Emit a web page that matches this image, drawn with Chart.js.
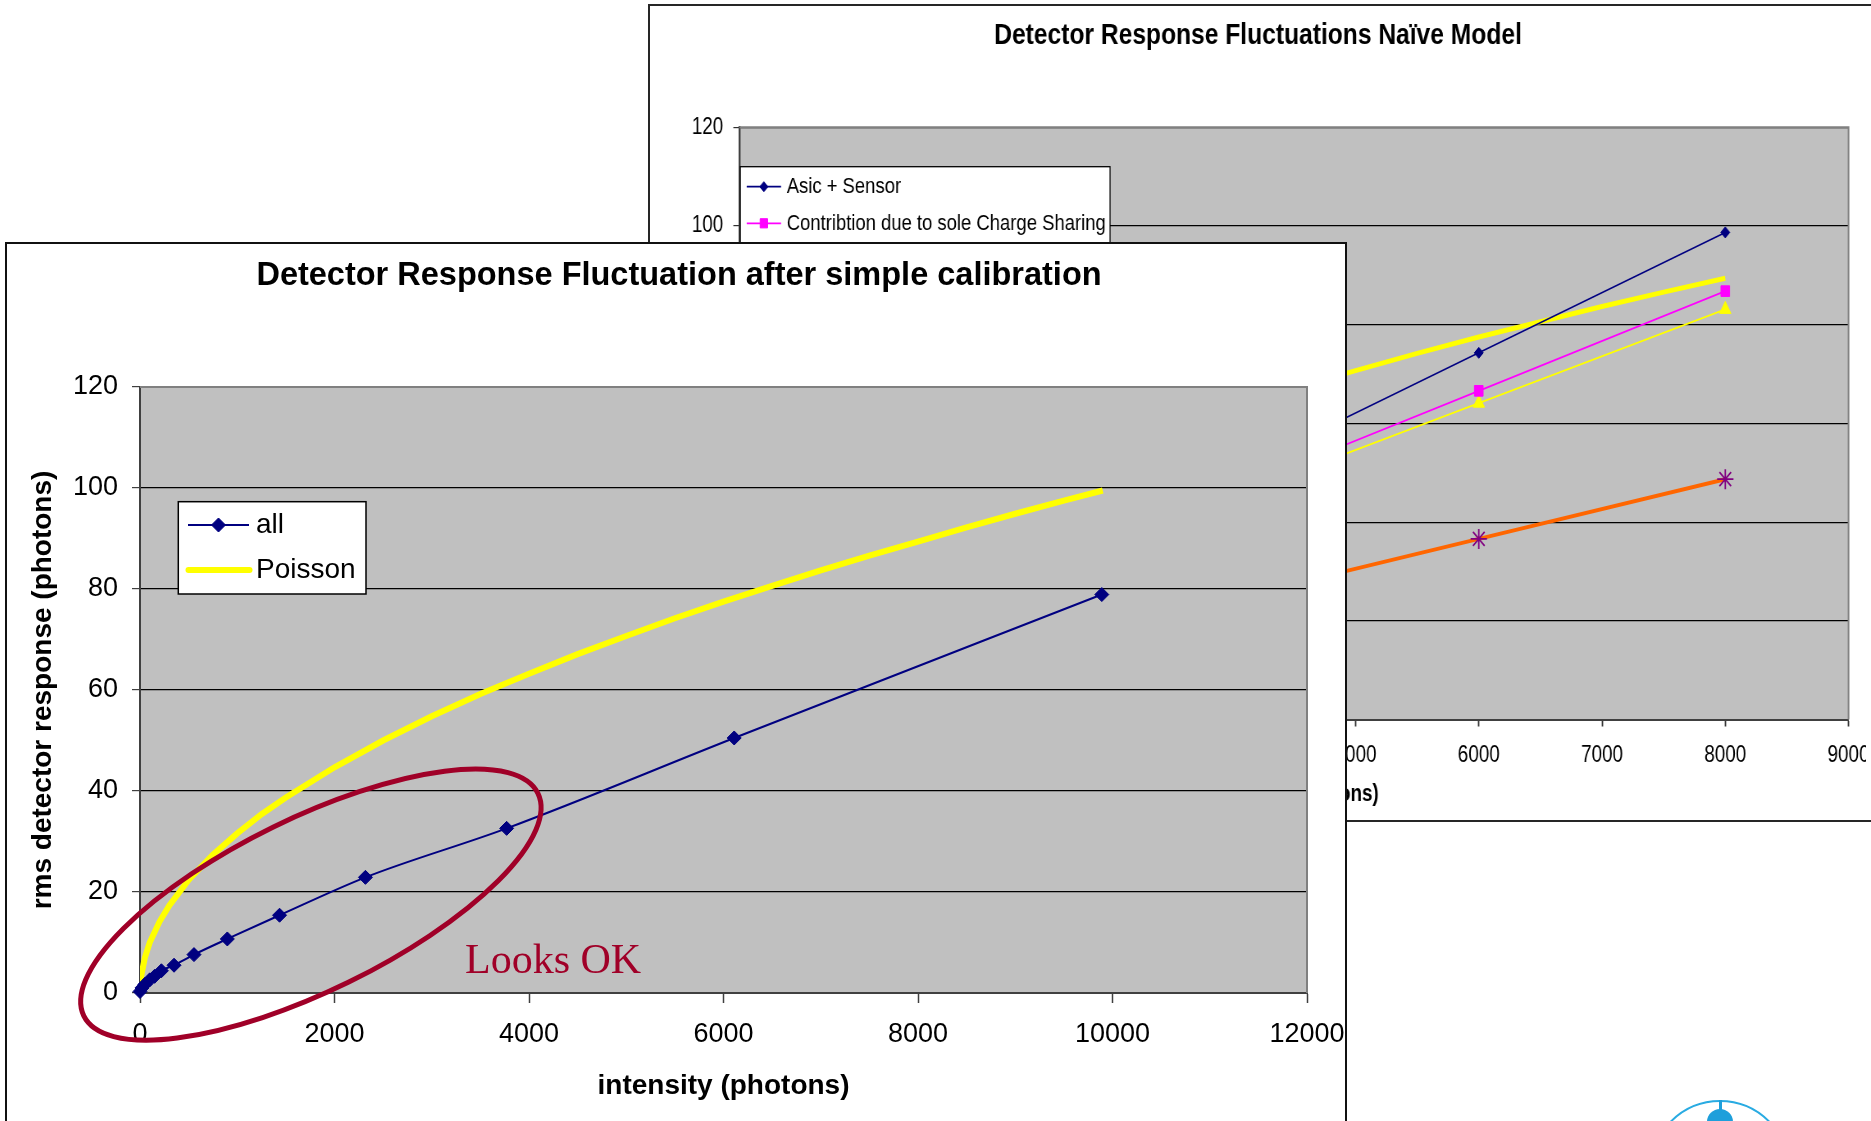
<!DOCTYPE html>
<html>
<head>
<meta charset="utf-8">
<script src="https://cdn.jsdelivr.net/npm/chart.js@4/dist/chart.umd.min.js"></script>
<style>
html,body{margin:0;padding:0;background:#fff;width:1871px;height:1121px;overflow:hidden;position:relative;}
#backFrame{position:absolute;left:648px;top:4px;width:1400px;height:814px;border:2px solid #262626;background:#fff;overflow:hidden;}
#backCanvas{position:absolute;left:0;top:0;transform:scaleX(0.82);transform-origin:0 0;}
#frontFrame{position:absolute;left:5px;top:242px;width:1338px;height:900px;border:2px solid #111;background:#fff;}
#frontCanvas{position:absolute;left:0;top:0;}
#logoRing{position:absolute;left:1650px;top:1100px;width:136px;height:136px;border:2.5px solid #29ABE2;border-radius:50%;}
#logoDome{position:absolute;left:1707px;top:1109px;width:26px;height:26px;border-radius:50%;background:#1E9FDB;}
#logoStem{position:absolute;left:1719px;top:1100px;width:3px;height:10px;background:#1E9FDB;}
</style>
</head>
<body>
<div id="backFrame"><canvas id="backCanvas" width="1483" height="814"></canvas></div>
<div id="frontFrame"><canvas id="frontCanvas" width="1338" height="877"></canvas></div>
<div id="logoRing"></div><div id="logoDome"></div><div id="logoStem"></div>
<script>
// ---------------- Front chart data ----------------
const frontTitle = 'Detector Response Fluctuation after simple calibration';
const frontXTitle = 'intensity (photons)';
const frontYTitle = 'rms detector response (photons)';
const frontXTicks = [0, 2000, 4000, 6000, 8000, 10000, 12000];
const frontYTicks = [0, 20, 40, 60, 80, 100, 120];
const allIntensity = [0, 20, 50, 100, 150, 220, 350, 555, 898, 1435, 2318, 3770, 6110, 9890];
const allRms = [0.3, 1.0, 1.7, 2.6, 3.3, 4.4, 5.5, 7.6, 10.7, 15.4, 22.9, 32.6, 50.5, 78.9];
const poissonIntensity = [0, 10, 50, 100, 200, 300, 500, 750, 1000, 1250, 1500, 2000, 2500, 3000, 3500, 4000, 4500, 5000, 5500, 6000, 6500, 7000, 7500, 8000, 8500, 9000, 9500, 9900];
const poissonRms = [0, 3.2, 7.0, 10.0, 14.1, 17.3, 22.4, 27.4, 31.6, 35.4, 38.7, 44.7, 50.0, 54.8, 59.2, 63.2, 67.1, 70.7, 74.2, 77.5, 80.6, 83.7, 86.6, 89.4, 92.2, 94.9, 97.5, 99.5];
const frontNote = 'Looks OK';

// ---------------- Back chart data ----------------
const backTitle = 'Detector Response Fluctuations Na\u00efve Model';
const backXTitle = 'intensity (photons)';
const backXTicks = [0, 1000, 2000, 3000, 4000, 5000, 6000, 7000, 8000, 9000];
const backYTicks = [0, 20, 40, 60, 80, 100, 120];
const backIntensity = [1000, 2000, 4000, 6000, 8000];
const asicSensor = [12.5, 25.1, 49.9, 74.3, 98.7];
const chargeSharing = [16.1, 26.2, 46.4, 66.6, 86.8];
const triangleSeries = [16.6, 26.1, 45.1, 64.1, 83.1];
const orangeSeries = [6.3, 12.4, 24.5, 36.6, 48.7];
const backPoissonIntensity = [0, 500, 1000, 1500, 2000, 2500, 3000, 3500, 4000, 4500, 5000, 5500, 6000, 6500, 7000, 7500, 8000];
const backPoisson = [0, 22.4, 31.6, 38.7, 44.7, 50.0, 54.8, 59.2, 63.2, 67.1, 70.7, 74.2, 77.5, 80.6, 83.7, 86.6, 89.4];
const backLegendLabels = ['Asic + Sensor', 'Contribtion due to sole Charge Sharing'];

// ---------------- helpers ----------------
const SANS = "'Liberation Sans', Arial, sans-serif";
const SERIF = "'Liberation Serif', 'Times New Roman', serif";
const pts = (xs, ys) => xs.map((x, i) => ({x: x, y: ys[i]}));

function marker(ctx, style, x, y, r, fill, stroke, bw) {
  ctx.save();
  ctx.fillStyle = fill; ctx.strokeStyle = stroke; ctx.lineWidth = bw;
  if (Chart.helpers && Chart.helpers.drawPoint) {
    Chart.helpers.drawPoint(ctx, {pointStyle: style, radius: r, borderWidth: bw, rotation: 0}, x, y);
  }
  ctx.restore();
}

const plotDecor = {
  id: 'plotDecor',
  beforeDraw(chart, args, o) {
    const {ctx, chartArea: a} = chart;
    ctx.save();
    ctx.fillStyle = o.bg;
    ctx.fillRect(a.left, a.top, a.right - a.left, a.bottom - a.top);
    ctx.restore();
  },
  beforeDatasetsDraw(chart, args, o) {
    const {ctx, chartArea: a} = chart;
    ctx.save();
    ctx.strokeStyle = o.border; ctx.lineWidth = o.borderWidth;
    ctx.beginPath();
    ctx.moveTo(a.left, a.top); ctx.lineTo(a.right, a.top); ctx.lineTo(a.right, a.bottom);
    ctx.stroke();
    ctx.restore();
  }
};

const boxLegend = {
  id: 'boxLegend',
  afterDatasetsDraw(chart, args, o) {
    const ctx = chart.ctx;
    ctx.save();
    ctx.fillStyle = '#fff'; ctx.strokeStyle = '#000'; ctx.lineWidth = o.borderWidth;
    ctx.fillRect(o.box.x, o.box.y, o.box.w, o.box.h);
    ctx.strokeRect(o.box.x, o.box.y, o.box.w, o.box.h);
    ctx.font = o.font; ctx.textBaseline = 'middle'; ctx.textAlign = 'left';
    o.items.forEach(it => {
      const ds = chart.data.datasets[it.ds];
      ctx.strokeStyle = ds.borderColor;
      ctx.lineWidth = ds.borderWidth;
      ctx.lineCap = it.cap || 'butt';
      ctx.beginPath(); ctx.moveTo(it.x0, it.y); ctx.lineTo(it.x1, it.y); ctx.stroke();
      if (ds.pointRadius > 0) {
        marker(ctx, ds.pointStyle, (it.x0 + it.x1) / 2, it.y, it.r || ds.pointRadius, ds.pointBackgroundColor, ds.pointBorderColor, ds.pointBorderWidth || 1);
      }
      ctx.fillStyle = '#000';
      ctx.fillText(it.text, it.tx, it.y);
    });
    ctx.restore();
  }
};

const noteLayer = {
  id: 'noteLayer',
  afterDraw(chart, args, o) {
    const ctx = chart.ctx, xs = chart.scales.x, ys = chart.scales.y;
    const cx = xs.getPixelForValue(o.ellipse.x), cy = ys.getPixelForValue(o.ellipse.y);
    const u = Math.abs(xs.getPixelForValue(1000) - xs.getPixelForValue(0)) / 1000;
    ctx.save();
    ctx.strokeStyle = o.color; ctx.lineWidth = o.lineWidth;
    ctx.beginPath();
    ctx.ellipse(cx, cy, o.ellipse.rx * u, o.ellipse.ry * u, o.ellipse.rot * Math.PI / 180, 0, Math.PI * 2);
    ctx.stroke();
    ctx.fillStyle = o.color; ctx.font = o.font; ctx.textAlign = 'left'; ctx.textBaseline = 'alphabetic';
    ctx.fillText(o.text, xs.getPixelForValue(o.textX), ys.getPixelForValue(o.textY));
    ctx.restore();
  }
};

function zeroPad(s) { s.paddingLeft = 0; s.paddingRight = 0; s.paddingTop = 0; s.paddingBottom = 0; }

// ---------------- Back chart (drawn wide, then squeezed horizontally by CSS) ----------------
new Chart(document.getElementById('backCanvas'), {
  type: 'scatter',
  data: {
    datasets: [
      {label: backLegendLabels[0], data: pts(backIntensity, asicSensor), showLine: true, borderColor: '#000080', borderWidth: 1.7,
        pointStyle: 'rectRot', pointRadius: 5.5, pointBackgroundColor: '#000080', pointBorderColor: '#000080', pointBorderWidth: 1},
      {label: backLegendLabels[1], data: pts(backIntensity, chargeSharing), showLine: true, borderColor: '#FF00FF', borderWidth: 1.7,
        pointStyle: 'rect', pointRadius: 7.5, pointBackgroundColor: '#FF00FF', pointBorderColor: '#FF00FF', pointBorderWidth: 1},
      {label: 'triangle series', data: pts(backIntensity, triangleSeries), showLine: true, borderColor: '#FFFF00', borderWidth: 1.7,
        pointStyle: 'triangle', pointRadius: 8, pointBackgroundColor: '#FFFF00', pointBorderColor: '#FFFF00', pointBorderWidth: 1},
      {label: 'Poisson', data: pts(backPoissonIntensity, backPoisson), showLine: true, borderColor: '#FFFF00', borderWidth: 5,
        pointRadius: 0},
      {label: 'orange series', data: pts(backIntensity, orangeSeries), showLine: true, borderColor: '#FF6600', borderWidth: 4,
        pointStyle: 'star', pointRadius: 10, pointBackgroundColor: '#800080', pointBorderColor: '#800080', pointBorderWidth: 1.8}
    ]
  },
  options: {
    responsive: false, animation: false, devicePixelRatio: 1,
    layout: {padding: {left: 21.4, right: 21.4, top: 0, bottom: 0}},
    plugins: {
      legend: {display: false}, tooltip: {enabled: false},
      title: {display: true, text: backTitle, color: '#000', font: {family: SANS, size: 30, weight: 'bold', lineHeight: 1.2},
        padding: {top: 12, bottom: 73.3}},
      plotDecor: {bg: '#C0C0C0', border: '#808080', borderWidth: 2},
      boxLegend: {borderWidth: 1.3, box: {x: 110.1, y: 160.7, w: 450.9, h: 200},
        font: '22.5px ' + SANS,
        items: [
          {ds: 0, x0: 117.9, x1: 159.8, y: 180.7, tx: 166.7, text: backLegendLabels[0], r: 5},
          {ds: 1, x0: 117.9, x1: 159.8, y: 217.3, tx: 166.7, text: backLegendLabels[1], r: 6.5}
        ]}
    },
    scales: {
      x: {type: 'linear', min: 0, max: 9000,
        afterBuildTicks: s => { s.ticks = backXTicks.map(v => ({value: v})); },
        ticks: {color: '#000', font: {family: SANS, size: 23}, padding: 15, maxRotation: 0, autoSkip: false, callback: v => String(v)},
        grid: {drawOnChartArea: false, drawTicks: true, tickLength: 7, tickColor: '#303030', tickWidth: 1.8},
        border: {color: '#404040', width: 2},
        title: {display: true, text: backXTitle, color: '#000', font: {family: SANS, size: 23, weight: 'bold', lineHeight: 1.2}, padding: {top: 0, bottom: 11.2}},
        afterFit: s => { s.height = 100.5; zeroPad(s); }
      },
      y: {type: 'linear', min: 0, max: 120,
        afterBuildTicks: s => { s.ticks = backYTicks.map(v => ({value: v})); },
        ticks: {color: '#000', font: {family: SANS, size: 23}, padding: 12.2, callback: v => String(v)},
        grid: {color: '#000', lineWidth: 1.2, drawTicks: true, tickLength: 7.3, tickColor: '#303030'},
        border: {color: '#404040', width: 2.4},
        afterFit: s => { s.width = 87.5; zeroPad(s); }
      }
    }
  },
  plugins: [plotDecor, boxLegend]
});

// ---------------- Front chart ----------------
new Chart(document.getElementById('frontCanvas'), {
  type: 'scatter',
  data: {
    datasets: [
      {label: 'all', data: pts(allIntensity, allRms), showLine: true, borderColor: '#000080', borderWidth: 2,
        cubicInterpolationMode: 'monotone', clip: false,
        pointStyle: 'rectRot', pointRadius: 7, pointBackgroundColor: '#000080', pointBorderColor: '#000080', pointBorderWidth: 1},
      {label: 'Poisson', data: pts(poissonIntensity, poissonRms), showLine: true, borderColor: '#FFFF00', borderWidth: 6,
        pointRadius: 0, tension: 0}
    ]
  },
  options: {
    responsive: false, animation: false, devicePixelRatio: 1,
    layout: {padding: {left: 44, right: 38, top: 0, bottom: 0}},
    plugins: {
      legend: {display: false}, tooltip: {enabled: false},
      title: {display: true, text: frontTitle, color: '#000', font: {family: SANS, size: 32.5, weight: 'bold', lineHeight: 1.2},
        padding: {top: 12.9, bottom: 91.1}},
      plotDecor: {bg: '#C0C0C0', border: '#808080', borderWidth: 2},
      boxLegend: {borderWidth: 1.5, box: {x: 171.3, y: 257.7, w: 187.7, h: 92.3},
        font: '28px ' + SANS,
        items: [
          {ds: 0, x0: 181, x1: 242, y: 281, tx: 249, text: 'all', r: 7},
          {ds: 1, x0: 181.5, x1: 242.5, y: 326, tx: 249, text: 'Poisson', cap: 'round'}
        ]},
      noteLayer: {color: '#A00028', lineWidth: 5, ellipse: {x: 1757, y: 17.5, rx: 2600, ry: 887, rot: -26.1},
        text: frontNote, textX: 3342, textY: 3.9, font: '42px ' + SERIF}
    },
    scales: {
      x: {type: 'linear', min: 0, max: 12000,
        afterBuildTicks: s => { s.ticks = frontXTicks.map(v => ({value: v})); },
        ticks: {color: '#000', font: {family: SANS, size: 27}, padding: 15.5, maxRotation: 0, autoSkip: false, callback: v => String(v)},
        grid: {drawOnChartArea: false, drawTicks: true, tickLength: 10, tickColor: '#404040', tickWidth: 1.5},
        border: {color: '#404040', width: 2},
        title: {display: true, text: frontXTitle, color: '#000', font: {family: SANS, size: 28, weight: 'bold', lineHeight: 1.2}, padding: {top: 0, bottom: 18.4}},
        afterFit: s => { s.height = 128; zeroPad(s); }
      },
      y: {type: 'linear', min: 0, max: 120,
        afterBuildTicks: s => { s.ticks = frontYTicks.map(v => ({value: v})); },
        ticks: {color: '#000', font: {family: SANS, size: 27}, padding: 14, callback: v => String(v)},
        grid: {color: '#000', lineWidth: 1.2, drawTicks: true, tickLength: 8, tickColor: '#404040'},
        border: {color: '#404040', width: 2},
        title: {display: true, text: frontYTitle, color: '#000', font: {family: SANS, size: 28, weight: 'bold', lineHeight: 1.2}, padding: {top: -24.3, bottom: 0}},
        afterFit: s => { s.width = 89; zeroPad(s); }
      }
    }
  },
  plugins: [plotDecor, boxLegend, noteLayer]
});
</script>
</body>
</html>
